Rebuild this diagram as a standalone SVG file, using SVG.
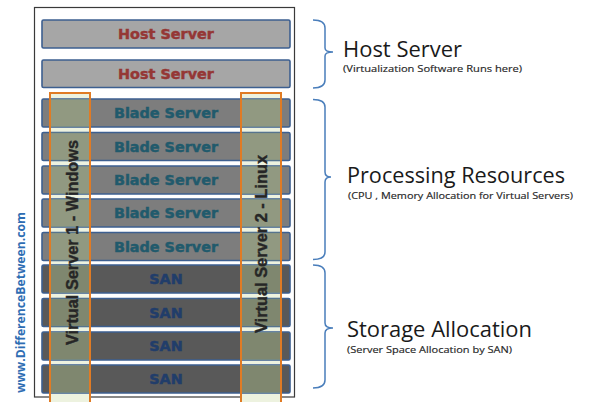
<svg xmlns="http://www.w3.org/2000/svg" width="591" height="402" viewBox="0 0 591 402">
  <style>
    .bar { stroke: #3d5f90; stroke-width: 1.6; }
    .host { fill: #a6a6a6; }
    .blade { fill: #7d7d7d; }
    .san { fill: #595959; }
    .lbl { font-family: "DejaVu Sans", Verdana, sans-serif; font-weight: bold; font-size: 14.4px; text-anchor: middle; stroke-width: 0.45; }
    .host-t { fill: #953735; stroke: #953735; }
    .blade-t { fill: #215a6c; stroke: #215a6c; }
    .san-t { fill: #213d6a; stroke: #213d6a; }
    .col-edge { fill: none; stroke: #e07b24; stroke-width: 2; }
    .vtext { font-family: "Liberation Sans", Arial, sans-serif; font-weight: bold; font-size: 16px; fill: #262626; stroke: #262626; stroke-width: 0.4; text-anchor: middle; }
    .brace { fill: none; stroke: #4a7ebb; stroke-width: 1.5; }
    .head { font-family: "Open Sans", "Liberation Sans", sans-serif; font-size: 21px; fill: #1a1a1a; }
    .sub { font-family: "Open Sans", "Liberation Sans", sans-serif; font-size: 9px; fill: #262626; stroke: #262626; stroke-width: 0.15; }
  </style>
  <defs>
    <clipPath id="rack-bars">
      <rect x="42" y="99" width="248" height="28"/>
      <rect x="42" y="132.5" width="248" height="28"/>
      <rect x="42" y="166" width="248" height="28"/>
      <rect x="42" y="199" width="248" height="28"/>
      <rect x="42" y="232.5" width="248" height="28"/>
      <rect x="42" y="265" width="248" height="28"/>
      <rect x="42" y="298.5" width="248" height="28"/>
      <rect x="42" y="332" width="248" height="28"/>
      <rect x="42" y="365" width="248" height="28"/>
    </clipPath>
  </defs>

  <rect width="591" height="402" fill="#ffffff"/>

  <!-- rack frame -->
  <rect id="rack" x="34.5" y="7.5" width="260" height="389.5" fill="#ffffff" stroke="#3a3a3a" stroke-width="1.2"/>

  <!-- virtual server columns: pale backing -->
  <g id="vm-columns-back">
    <rect x="50" y="93" width="40" height="312" fill="#edf2df"/>
    <rect x="241" y="93" width="40" height="312" fill="#edf2df"/>
  </g>

  <!-- host servers -->
  <g id="host-1">
    <rect class="bar host" x="42" y="20" width="248" height="28" rx="1.5"/>
    <text class="lbl host-t" x="166" y="39.2">Host Server</text>
  </g>
  <g id="host-2">
    <rect class="bar host" x="42" y="60" width="248" height="27.5" rx="1.5"/>
    <text class="lbl host-t" x="166" y="79">Host Server</text>
  </g>

  <!-- blade servers -->
  <g id="blade-1">
    <rect class="bar blade" x="42" y="99" width="248" height="28" rx="1.5"/>
    <text class="lbl blade-t" x="166" y="118.2">Blade Server</text>
  </g>
  <g id="blade-2">
    <rect class="bar blade" x="42" y="132.5" width="248" height="28" rx="1.5"/>
    <text class="lbl blade-t" x="166" y="151.7">Blade Server</text>
  </g>
  <g id="blade-3">
    <rect class="bar blade" x="42" y="166" width="248" height="28" rx="1.5"/>
    <text class="lbl blade-t" x="166" y="185.2">Blade Server</text>
  </g>
  <g id="blade-4">
    <rect class="bar blade" x="42" y="199" width="248" height="28" rx="1.5"/>
    <text class="lbl blade-t" x="166" y="218.2">Blade Server</text>
  </g>
  <g id="blade-5">
    <rect class="bar blade" x="42" y="232.5" width="248" height="28" rx="1.5"/>
    <text class="lbl blade-t" x="166" y="251.7">Blade Server</text>
  </g>

  <!-- storage -->
  <g id="san-1">
    <rect class="bar san" x="42" y="265" width="248" height="28" rx="1.5"/>
    <text class="lbl san-t" x="166" y="284.2">SAN</text>
  </g>
  <g id="san-2">
    <rect class="bar san" x="42" y="298.5" width="248" height="28" rx="1.5"/>
    <text class="lbl san-t" x="166" y="317.7">SAN</text>
  </g>
  <g id="san-3">
    <rect class="bar san" x="42" y="332" width="248" height="28" rx="1.5"/>
    <text class="lbl san-t" x="166" y="351.2">SAN</text>
  </g>
  <g id="san-4">
    <rect class="bar san" x="42" y="365" width="248" height="28" rx="1.5"/>
    <text class="lbl san-t" x="166" y="384.2">SAN</text>
  </g>

  <!-- virtual server columns: tint over the bars, edges and labels -->
  <g id="vm-windows">
    <rect x="50" y="93" width="40" height="312" fill="#a6b585" fill-opacity="0.5" clip-path="url(#rack-bars)"/>
    <rect class="col-edge" x="50" y="93" width="40" height="312"/>
    <text class="vtext" transform="translate(77.5 242.5) rotate(-90)" textLength="205" lengthAdjust="spacingAndGlyphs">Virtual Server 1 - Windows</text>
  </g>
  <g id="vm-linux">
    <rect x="241" y="93" width="40" height="312" fill="#a6b585" fill-opacity="0.5" clip-path="url(#rack-bars)"/>
    <rect class="col-edge" x="241" y="93" width="40" height="312"/>
    <text class="vtext" transform="translate(267 244) rotate(-90)" textLength="178" lengthAdjust="spacingAndGlyphs">Virtual Server 2 - Linux</text>
  </g>

  <!-- braces -->
  <g id="braces">
    <path class="brace" d="M313,20 Q325,20 325,28 V48 Q325,52 333,52 Q325,52 325,56 V80 Q325,88 313,88"/>
    <path class="brace" d="M313,99.5 Q325,99.5 325,107 V172 Q325,177 331,177 Q325,177 325,182 V252 Q325,259.5 313,259.5"/>
    <path class="brace" d="M313,265 Q325,265 325,273 V323 Q325,328 333,328 Q325,328 325,333 V380 Q325,388 313,388"/>
  </g>

  <!-- section labels -->
  <g id="label-host">
    <text class="head" x="343" y="57" textLength="119" lengthAdjust="spacingAndGlyphs">Host Server</text>
    <text class="sub" x="343" y="72" textLength="179" lengthAdjust="spacingAndGlyphs">(Virtualization Software Runs here)</text>
  </g>
  <g id="label-processing">
    <text class="head" x="347" y="183" textLength="218" lengthAdjust="spacingAndGlyphs">Processing Resources</text>
    <text class="sub" x="348" y="199" textLength="225" lengthAdjust="spacingAndGlyphs">(CPU , Memory Allocation for Virtual Servers)</text>
  </g>
  <g id="label-storage">
    <text class="head" x="347" y="337" textLength="185" lengthAdjust="spacingAndGlyphs">Storage Allocation</text>
    <text class="sub" x="347" y="353" textLength="165" lengthAdjust="spacingAndGlyphs">(Server Space Allocation by SAN)</text>
  </g>

  <!-- site mark -->
  <text x="25" y="302.5" transform="rotate(-90 25 302.5)" font-family="Open Sans, Liberation Sans, sans-serif" font-weight="bold" font-size="12px" fill="#2e6db3" text-anchor="middle" textLength="181" lengthAdjust="spacingAndGlyphs">www.DifferenceBetween.com</text>
</svg>
